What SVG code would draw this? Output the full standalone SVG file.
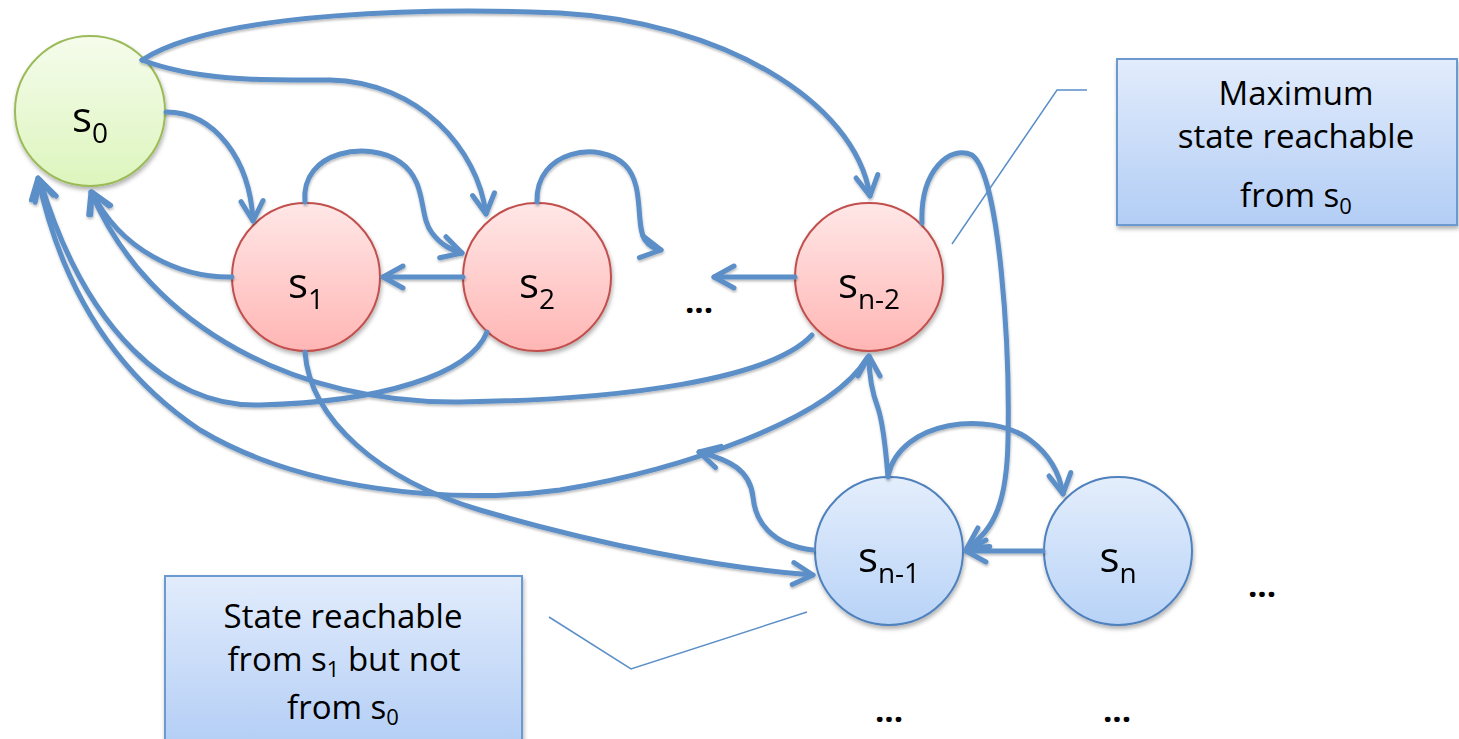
<svg xmlns="http://www.w3.org/2000/svg" width="1459" height="739" viewBox="0 0 1459 739">
  <style>
    .edge { fill: none; stroke: #5b8fc8; stroke-width: 5; stroke-linecap: round; marker-end: url(#arrow); }
    .callout { fill: none; stroke: #5b8fc8; stroke-width: 1.5; }
    .lbl { font-family: "Open Sans", "Liberation Sans", sans-serif; font-size: 42px; fill: #000; text-anchor: middle; }
    .note { font-family: "Open Sans", "Liberation Sans", sans-serif; font-size: 33px; fill: #000; text-anchor: middle; }
    .dots { font-family: "Open Sans", "Liberation Sans", sans-serif; font-size: 33px; font-weight: bold; fill: #000; text-anchor: middle; }
    .green { fill: url(#gGreen); stroke: #9bbb59; stroke-width: 2; }
    .red { fill: url(#gRed); stroke: #c0504d; stroke-width: 2; }
    .blue { fill: url(#gBlue); stroke: #4f81bd; stroke-width: 2; }
    .box { fill: url(#gBox); stroke: #6a9ad0; stroke-width: 2; }
  </style>
  <defs>
    <linearGradient id="gGreen" x1="0" y1="0" x2="0" y2="1">
      <stop offset="0" stop-color="#f5fcec"/>
      <stop offset="1" stop-color="#ddf5bd"/>
    </linearGradient>
    <linearGradient id="gRed" x1="0" y1="0" x2="0" y2="1">
      <stop offset="0" stop-color="#ffe7e7"/>
      <stop offset="1" stop-color="#ffb6b4"/>
    </linearGradient>
    <linearGradient id="gBlue" x1="0" y1="0" x2="0" y2="1">
      <stop offset="0" stop-color="#e4eefc"/>
      <stop offset="1" stop-color="#b8d3f7"/>
    </linearGradient>
    <linearGradient id="gBox" x1="0" y1="0" x2="0" y2="1">
      <stop offset="0" stop-color="#e2ecfc"/>
      <stop offset="1" stop-color="#b2cdf5"/>
    </linearGradient>
    <filter id="shadow" x="-20%" y="-20%" width="140%" height="140%">
      <feDropShadow dx="1" dy="3" stdDeviation="2" flood-color="#000" flood-opacity="0.3"/>
    </filter>
    <filter id="lineShadow" x="-5%" y="-5%" width="110%" height="110%">
      <feDropShadow dx="0.5" dy="2" stdDeviation="1.2" flood-color="#000" flood-opacity="0.25"/>
    </filter>
    <marker id="arrow" markerUnits="userSpaceOnUse" markerWidth="34" markerHeight="34" viewBox="-27 -17 34 34" refX="0" refY="0" orient="auto" overflow="visible">
      <path d="M-20,-11 L0,0 L-20,11" fill="none" stroke="#5b8fc8" stroke-width="5" stroke-linecap="round" stroke-linejoin="round"/>
    </marker>
  </defs>

  <!-- state nodes -->
  <g id="s0" filter="url(#shadow)">
    <circle class="green" cx="90" cy="111" r="75"/>
    <text class="lbl" x="90" y="132">s<tspan font-size="28" dy="11">0</tspan></text>
  </g>
  <g id="s1" filter="url(#shadow)">
    <circle class="red" cx="306" cy="277" r="74"/>
    <text class="lbl" x="306" y="298">s<tspan font-size="28" dy="11">1</tspan></text>
  </g>
  <g id="s2" filter="url(#shadow)">
    <circle class="red" cx="537" cy="277" r="74"/>
    <text class="lbl" x="537" y="298">s<tspan font-size="28" dy="11">2</tspan></text>
  </g>
  <g id="sn-2" filter="url(#shadow)">
    <circle class="red" cx="869" cy="277" r="74"/>
    <text class="lbl" x="869" y="298">s<tspan font-size="28" dy="11">n-2</tspan></text>
  </g>
  <g id="sn-1" filter="url(#shadow)">
    <circle class="blue" cx="889" cy="551" r="74"/>
    <text class="lbl" x="889" y="572">s<tspan font-size="28" dy="11">n-1</tspan></text>
  </g>
  <g id="sn" filter="url(#shadow)">
    <circle class="blue" cx="1118" cy="551" r="74"/>
    <text class="lbl" x="1118" y="572">s<tspan font-size="28" dy="11">n</tspan></text>
  </g>

  <!-- ellipsis markers for omitted states -->
  <g id="ellipses">
    <text class="dots" x="699" y="313">...</text>
    <text class="dots" x="1262" y="597">...</text>
    <text class="dots" x="889" y="722">...</text>
    <text class="dots" x="1117" y="722">...</text>
  </g>

  <!-- transitions -->
  <g id="connectors" filter="url(#lineShadow)">
    <path class="edge" d="M166,112 C215,112 250,160 253,221"/>
    <path class="edge" d="M142,60 C200,82 270,80 330,80 C420,82 478,150 486,214"/>
    <path class="edge" d="M142,60 C220,10 440,8 560,13 C720,22 855,100 870,196"/>
    <path class="edge" d="M305,202 C300,150 370,140 400,162 C428,182 418,215 432,233 C442,246 452,250 462,253"/>
    <path class="edge" d="M537,202 C535,150 600,140 625,165 C645,185 635,225 645,240 C650,247 655,249 661,250"/>
    <path class="edge" d="M463,277 L383,277"/>
    <path class="edge" d="M795,277 L714,277"/>
    <path class="edge" d="M232,277 C180,278 120,250 92,192"/>
    <path class="edge" d="M812,335 C770,380 620,400 460,402 C300,404 150,330 91,192"/>
    <path class="edge" d="M487,332 C470,375 380,402 260,405 C170,408 85,330 40,180"/>
    <path class="edge" d="M867,358 C830,420 680,470 560,490 C450,505 300,490 200,430 C110,370 60,280 38,178"/>
    <path class="edge" d="M305,352 C310,420 380,480 480,510 C600,545 720,568 813,575"/>
    <path class="edge" d="M813,550 C770,545 755,520 753,497 C750,470 730,460 699,452"/>
    <path class="edge" d="M888,477 C885,440 882,420 878,408 C873,395 869,380 869,356"/>
    <path class="edge" d="M888,476 C900,420 990,410 1030,440 C1050,455 1060,475 1063,494"/>
    <path class="edge" d="M1043,551 L966,551"/>
    <path class="edge" d="M922,223 C920,170 950,145 972,155 C1000,175 1010,350 1008,440 C1007,500 995,530 967,548"/>
  </g>

  <!-- annotation boxes -->
  <g id="note-max">
    <polyline class="callout" points="1087,90 1057,90 952,244"/>
    <rect class="box" x="1117" y="59" width="340" height="166" filter="url(#shadow)"/>
    <text class="note" x="1296" y="105">Maximum</text>
    <text class="note" x="1296" y="148">state reachable</text>
    <text class="note" x="1296" y="207">from s<tspan font-size="22" dy="7">0</tspan></text>
  </g>
  <g id="note-s1">
    <polyline class="callout" points="549,617 631,669 807,612"/>
    <rect class="box" x="165" y="576" width="357" height="175" filter="url(#shadow)"/>
    <text class="note" x="343" y="628">State reachable</text>
    <text class="note" x="344" y="671">from s<tspan font-size="22" dy="6">1</tspan><tspan dy="-6"> but not</tspan></text>
    <text class="note" x="343" y="719">from s<tspan font-size="22" dy="6">0</tspan></text>
  </g>
</svg>
